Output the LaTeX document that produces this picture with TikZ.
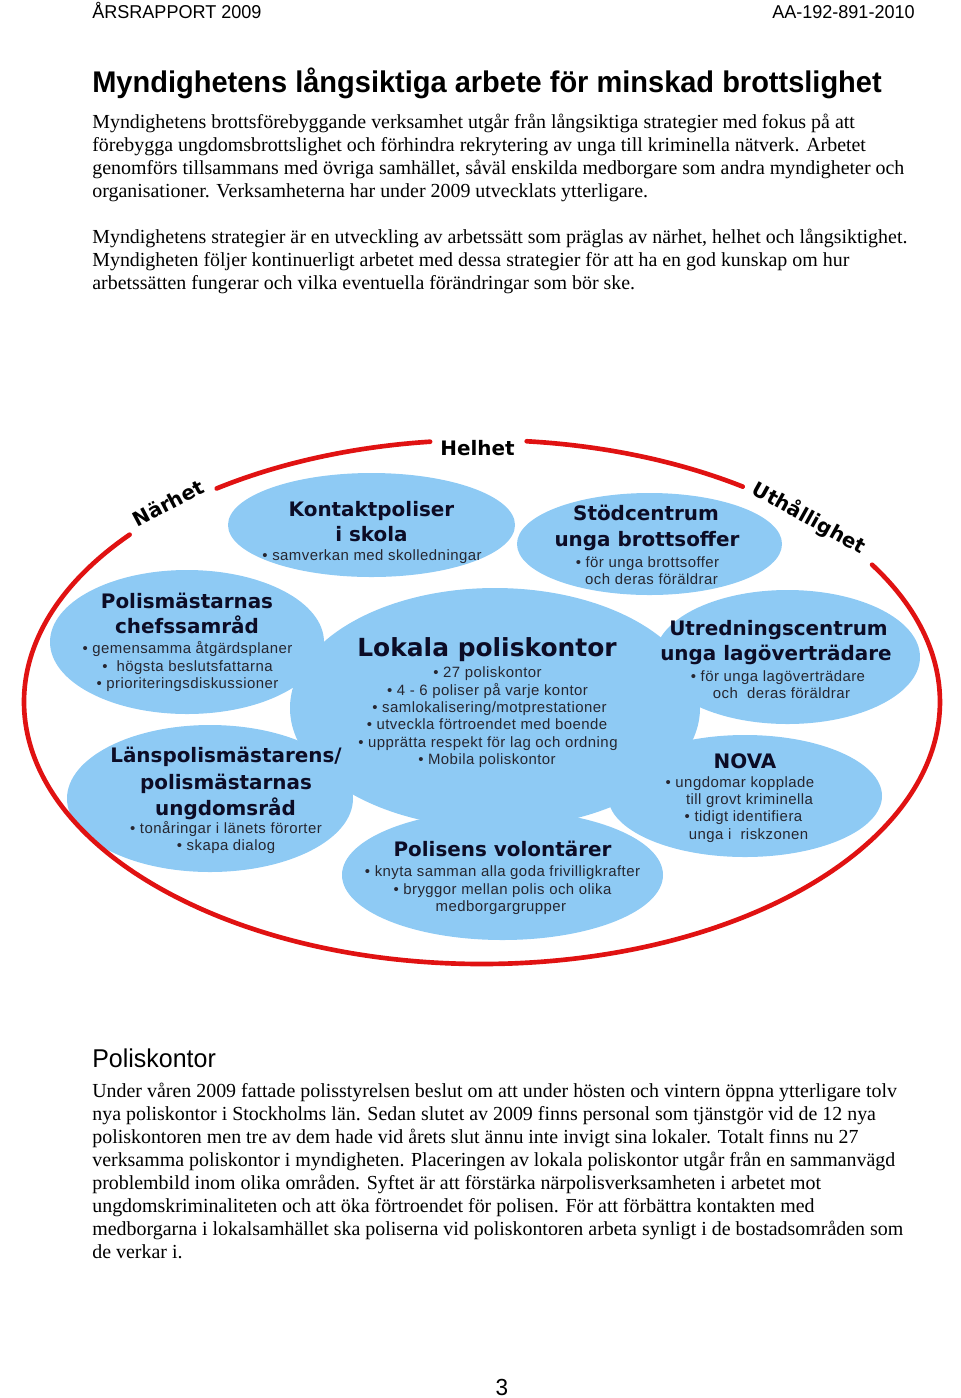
\documentclass[tikz,border=0pt]{standalone}
\usepackage{fontspec}
\setmainfont{Liberation Serif}
\newfontfamily\pagesans{Liberation Sans}[FakeStretch=0.97]
\newfontfamily\headfont{DejaVu Sans}
\newfontfamily\bulletfont{Liberation Sans}[LetterSpace=3]

\definecolor{bubbleblue}{RGB}{142,202,244}
\definecolor{ringred}{RGB}{224,18,18}
\definecolor{headnavy}{RGB}{12,12,38}
\definecolor{bulletgray}{RGB}{38,38,48}

\tikzstyle{bubble} = [fill=bubbleblue]
\tikzstyle{ringline} = [draw=ringred, line width=2.8pt, line cap=round]
\tikzstyle{ringlabel} = [font=\headfont\bfseries\fontsize{12}{14}\selectfont, inner sep=0pt]
\tikzstyle{bubblehead} = [font=\headfont\bfseries\fontsize{12}{14}\selectfont, text=headnavy, anchor=base, inner sep=0pt]
\tikzstyle{bighead} = [bubblehead, font=\headfont\bfseries\fontsize{15}{18}\selectfont]
\tikzstyle{bubbletext} = [font=\bulletfont\fontsize{9}{11}\selectfont, text=bulletgray, anchor=base, inner sep=0pt]
\tikzstyle{bodyline} = [font=\fontsize{12}{13.8}\selectfont, anchor=base west, inner sep=0pt]
\tikzstyle{pagehead} = [font=\pagesans\fontsize{11.2}{13}\selectfont, inner sep=0pt]

\begin{document}
\begin{tikzpicture}[x=0.6022pt, y=-0.6022pt]
    \useasboundingbox (0,0) rectangle (960,1398);

    % page header and title
    \node [pagehead, anchor=base west] (report) at (92,18.5) {ÅRSRAPPORT 2009};
    \node [pagehead, anchor=base east] (docnr) at (915,18.5) {AA-192-891-2010};
    \node [anchor=base west, inner sep=0pt, font=\pagesans\bfseries\fontsize{18}{21}\selectfont] (title) at (92,92)
        {Myndighetens långsiktiga arbete för minskad brottslighet};

    \foreach \y/\txt [count=\i] in {
        128/{Myndighetens brottsförebyggande verksamhet utgår från långsiktiga strategier med fokus på att},
        151/{förebygga ungdomsbrottslighet och förhindra rekrytering av unga till kriminella nätverk. Arbetet},
        174/{genomförs tillsammans med övriga samhället, såväl enskilda medborgare som andra myndigheter och},
        197/{organisationer. Verksamheterna har under 2009 utvecklats ytterligare.},
        243/{Myndighetens strategier är en utveckling av arbetssätt som präglas av närhet, helhet och långsiktighet.},
        266/{Myndigheten följer kontinuerligt arbetet med dessa strategier för att ha en god kunskap om hur},
        289/{arbetssätten fungerar och vilka eventuella förändringar som bör ske.}}
        \node [bodyline] (intro\i) at (92,\y) {\txt};

    % the bubbles, centre one first
    \fill [bubble] (495,708) ellipse [x radius=205, y radius=120];
    \fill [bubble] (371.5,525) ellipse [x radius=143.5, y radius=52];
    \fill [bubble] (649.5,544) ellipse [x radius=132.5, y radius=51];
    \fill [bubble] (187,642) ellipse [x radius=137, y radius=72];
    \fill [bubble] (787.5,657) ellipse [x radius=132.5, y radius=67];
    \fill [bubble] (210,798.5) ellipse [x radius=143, y radius=73.5];
    \fill [bubble] (745,796) ellipse [x radius=137, y radius=61];
    \fill [bubble] (502.5,875) ellipse [x radius=160.5, y radius=65];

    % Kontaktpoliser i skola
    \node [bubblehead] (skola1) at (371.5,516.5) {Kontaktpoliser};
    \node [bubblehead] (skola2) at (371.5,541.5) {i skola};
    \node [bubbletext] (skola3) at (372,560.5) {• samverkan med skolledningar};

    % Stödcentrum
    \node [bubblehead] (stod1) at (646,520.5) {Stödcentrum};
    \node [bubblehead] (stod2) at (647,546.5) {unga brottsoffer};
    \node [bubbletext] (stod3) at (647.5,567) {• för unga brottsoffer};
    \node [bubbletext] (stod4) at (651.5,584) {och deras föräldrar};

    % Polismästarnas chefssamråd
    \node [bubblehead] (chef1) at (187,608) {Polismästarnas};
    \node [bubblehead] (chef2) at (187,633) {chefssamråd};
    \node [bubbletext] (chef3) at (187.5,653) {• gemensamma åtgärdsplaner};
    \node [bubbletext] (chef4) at (187.5,671) {•~ högsta beslutsfattarna};
    \node [bubbletext] (chef5) at (187.5,688) {• prioriteringsdiskussioner};

    % Lokala poliskontor
    \node [bighead] (lokal) at (487,656) {Lokala poliskontor};
    \foreach \x/\y/\txt [count=\i] in {
        487.5/677/{• 27 poliskontor},
        487.5/695/{• 4 - 6 poliser på varje kontor},
        489.5/712/{• samlokalisering/motprestationer},
        487/729/{• utveckla förtroendet med boende},
        488/747/{• upprätta respekt för lag och ordning},
        487/764/{• Mobila poliskontor}}
        \node [bubbletext] (lokal\i) at (\x,\y) {\txt};

    % Utredningscentrum
    \node [bubblehead] (utred1) at (778.5,635) {Utredningscentrum};
    \node [bubblehead] (utred2) at (776,660.5) {unga lagöverträdare};
    \node [bubbletext] (utred3) at (778,681.5) {• för unga lagöverträdare};
    \node [bubbletext] (utred4) at (781.5,698.5) {och~ deras föräldrar};

    % Länspolismästarens ungdomsråd
    \node [bubblehead] (lans1) at (226,762.5) {Länspolismästarens/};
    \node [bubblehead] (lans2) at (226,789) {polismästarnas};
    \node [bubblehead] (lans3) at (225.5,815) {ungdomsråd};
    \node [bubbletext] (lans4) at (226,833) {• tonåringar i länets förorter};
    \node [bubbletext] (lans5) at (226,850.5) {• skapa dialog};

    % NOVA
    \node [bubblehead] (nova1) at (745,768) {NOVA};
    \node [bubbletext] (nova2) at (740,787) {• ungdomar kopplade};
    \node [bubbletext] (nova3) at (749.5,804) {till grovt kriminella};
    \node [bubbletext] (nova4) at (743.5,821.5) {• tidigt identifiera};
    \node [bubbletext] (nova5) at (748.5,839) {unga i~ riskzonen};

    % Polisens volontärer
    \node [bubblehead] (volont1) at (502.5,856.5) {Polisens volontärer};
    \node [bubbletext] (volont2) at (502.5,876.5) {• knyta samman alla goda frivilligkrafter};
    \node [bubbletext] (volont3) at (502.5,894) {• bryggor mellan polis och olika};
    \node [bubbletext] (volont4) at (501,911.5) {medborgargrupper};

    % the red ring, broken for its three words
    \coordinate (ringc) at (482,702);
    \draw [ringline] (ringc) ++(-96.5:458 and 262) arc [start angle=-96.5, end angle=-125.4, x radius=458, y radius=262];
    \draw [ringline] (ringc) ++(-140.3:458 and 262) arc [start angle=-140.3, end angle=-391.6, x radius=458, y radius=262];
    \draw [ringline] (ringc) ++(-55.3:458 and 262) arc [start angle=-55.3, end angle=-84.4, x radius=458, y radius=262];
    \node [ringlabel, anchor=base west] (helhet) at (440,455) {Helhet};
    \node [ringlabel, rotate=28] (narhet) at (168,503) {Närhet};
    \node [ringlabel, rotate=-29] (uthall) at (809,518) {Uthållighet};

    % Poliskontor section
    \node [anchor=base west, inner sep=0pt, font=\pagesans\fontsize{15.5}{18}\selectfont] (section) at (92,1067) {Poliskontor};
    \foreach \y/\txt [count=\i] in {
        1097/{Under våren 2009 fattade polisstyrelsen beslut om att under hösten och vintern öppna ytterligare tolv},
        1120/{nya poliskontor i Stockholms län. Sedan slutet av 2009 finns personal som tjänstgör vid de 12 nya},
        1143/{poliskontoren men tre av dem hade vid årets slut ännu inte invigt sina lokaler. Totalt finns nu 27},
        1166/{verksamma poliskontor i myndigheten. Placeringen av lokala poliskontor utgår från en sammanvägd},
        1189/{problembild inom olika områden. Syftet är att förstärka närpolisverksamheten i arbetet mot},
        1212/{ungdomskriminaliteten och att öka förtroendet för polisen. För att förbättra kontakten med},
        1235/{medborgarna i lokalsamhället ska poliserna vid poliskontoren arbeta synligt i de bostadsområden som},
        1258/{de verkar i.}}
        \node [bodyline] (kontor\i) at (92,\y) {\txt};

    \node [pagehead, anchor=base, font=\pagesans\fontsize{14}{16}\selectfont] (pagenr) at (502,1395) {3};
\end{tikzpicture}
\end{document}
